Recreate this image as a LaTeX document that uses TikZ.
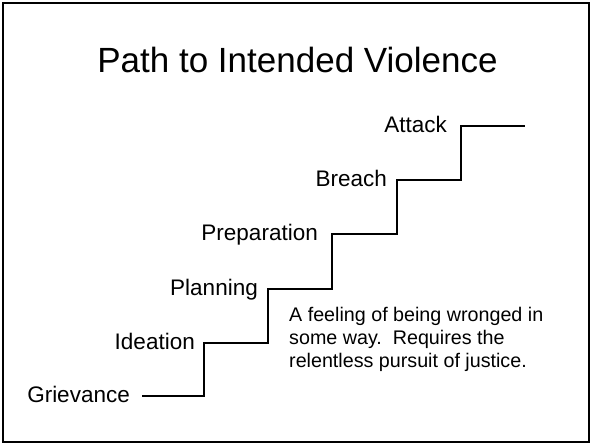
\documentclass[tikz,border=0pt]{standalone}
\usepackage{fontspec}
\setmainfont{Liberation Sans}
\begin{document}
\begin{tikzpicture}[x=1pt,y=-1pt,
  lbl/.style={anchor=base east,inner sep=0pt,font=\fontsize{22.5}{27}\selectfont},
  stair/.style={line width=1.6pt,line join=miter},
  frame/.style={line width=1.8pt}]
\useasboundingbox (0,0) rectangle (592,445);
\draw[frame] (3,3) rectangle (589,442);
\node[anchor=base,inner sep=0pt,font=\fontsize{35}{40}\selectfont] (title) at (297.5,72) {Path to Intended Violence};
\node[lbl] (griev) at (130,402.5) {Grievance};
\node[lbl] (idea) at (195,349.5) {Ideation};
\node[lbl] (plan) at (258,295.5) {Planning};
\node[lbl] (prep) at (318,240) {Preparation};
\node[lbl] (breach) at (387,186) {Breach};
\node[lbl] (attack) at (447,132) {Attack};
\coordinate (s0) at (142,396);
\coordinate (s1) at (204,396);
\coordinate (s2) at (268,343);
\coordinate (s3) at (332,289);
\coordinate (s4) at (397,234);
\coordinate (s5) at (461,180);
\coordinate (s6) at (461,126);
\coordinate (end) at (525,126);
\draw[stair] (s0) -- (s1) |- (s2) |- (s3) |- (s4) |- (s5) -- (s6) -- (end);
\node[anchor=base west,inner sep=0pt,align=left,font=\fontsize{19.7}{23}\selectfont] (desc) at (289,367)
  {A feeling of being wronged in\\some way.\ \ Requires the\\relentless pursuit of justice.};
\end{tikzpicture}
\end{document}
